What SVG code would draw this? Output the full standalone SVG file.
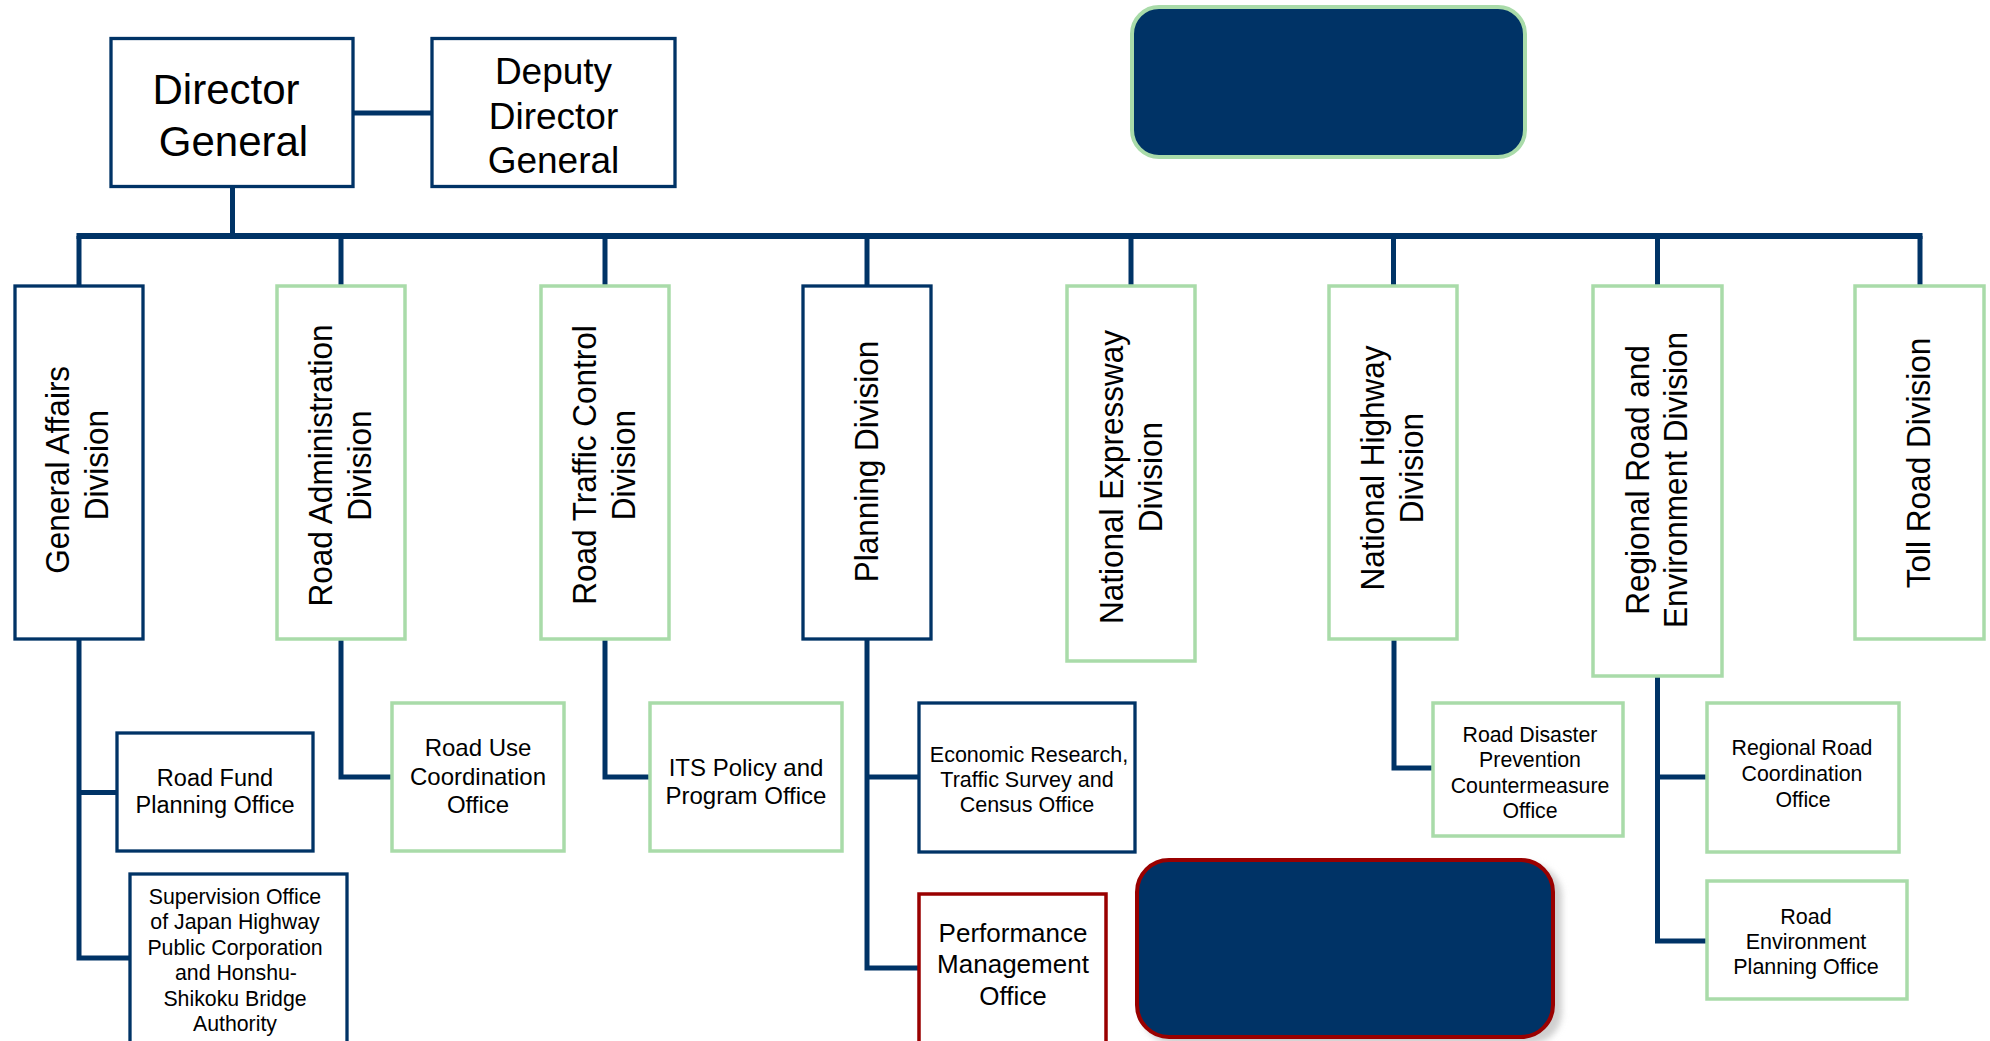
<svg xmlns="http://www.w3.org/2000/svg" width="1990" height="1041" viewBox="0 0 1990 1041">
  <defs>
    <style>
      text { font-family: "Liberation Sans", Arial, sans-serif; fill: #000; text-anchor: middle; }
      .nb { fill: #fff; stroke: #003366; stroke-width: 3.3; }
      .gb { fill: #fff; stroke: #A9DBA9; stroke-width: 3.5; }
      .rb { fill: #fff; stroke: #990000; stroke-width: 3.5; }
      .ln { fill: none; stroke: #003366; stroke-width: 5; stroke-linejoin: miter; stroke-linecap: butt; }
      .bus { fill: none; stroke: #003366; stroke-width: 6; }
      .vt { font-size: 33px; }
    </style>
    <filter id="sh" x="-10%" y="-10%" width="130%" height="130%">
      <feGaussianBlur stdDeviation="3"/>
    </filter>
  </defs>

  <g id="connectors">
    <line class="ln" x1="353" y1="113" x2="432" y2="113"/>
    <line class="ln" x1="232.5" y1="187" x2="232.5" y2="236"/>
    <line class="bus" x1="76.5" y1="236" x2="1922.5" y2="236"/>
    <line class="ln" x1="79" y1="236" x2="79" y2="286"/>
    <line class="ln" x1="341" y1="236" x2="341" y2="286"/>
    <line class="ln" x1="605" y1="236" x2="605" y2="286"/>
    <line class="ln" x1="867" y1="236" x2="867" y2="286"/>
    <line class="ln" x1="1131" y1="236" x2="1131" y2="286"/>
    <line class="ln" x1="1393.5" y1="236" x2="1393.5" y2="286"/>
    <line class="ln" x1="1657.5" y1="236" x2="1657.5" y2="286"/>
    <line class="ln" x1="1920" y1="236" x2="1920" y2="286"/>
    <polyline class="ln" points="79,639 79,958 130,958"/>
    <line class="ln" x1="79" y1="792.5" x2="117" y2="792.5"/>
    <polyline class="ln" points="341,639 341,777 392,777"/>
    <polyline class="ln" points="605,639 605,777 650,777"/>
    <polyline class="ln" points="867,639 867,968 919,968"/>
    <line class="ln" x1="867" y1="777" x2="919" y2="777"/>
    <polyline class="ln" points="1394,638 1394,768 1433,768"/>
    <polyline class="ln" points="1657.5,676 1657.5,941 1707,941"/>
    <line class="ln" x1="1657.5" y1="777" x2="1707" y2="777"/>
  </g>

  <g id="director-general">
    <rect class="nb" x="111" y="38.5" width="242" height="148"/>
    <text x="226" y="104" font-size="42">Director</text>
    <text x="233.5" y="156" font-size="42">General</text>
  </g>

  <g id="deputy-director-general">
    <rect class="nb" x="432" y="38.5" width="243" height="148"/>
    <text x="553.5" y="84" font-size="37">Deputy</text>
    <text x="553.5" y="128.5" font-size="37">Director</text>
    <text x="553.5" y="173" font-size="37">General</text>
  </g>

  <g id="top-panel">
    <rect x="1132" y="7" width="393" height="150" rx="27" ry="27" fill="#003366" stroke="#A9DBA9" stroke-width="4"/>
  </g>

  <g id="general-affairs-division">
    <rect class="nb" x="15" y="286" width="128" height="353"/>
    <g transform="translate(79,465) rotate(-90) scale(0.955,1)">
      <text class="vt" x="-5" y="-10">General Affairs</text>
      <text class="vt" x="0" y="29">Division</text>
    </g>
  </g>

  <g id="road-administration-division">
    <rect class="gb" x="277" y="286" width="128" height="353"/>
    <g transform="translate(341,465.5) rotate(-90) scale(0.955,1)">
      <text class="vt" x="0" y="-9">Road Administration</text>
      <text class="vt" x="0" y="30">Division</text>
    </g>
  </g>

  <g id="road-traffic-control-division">
    <rect class="gb" x="541" y="286" width="128" height="353"/>
    <g transform="translate(605,465) rotate(-90) scale(0.955,1)">
      <text class="vt" x="0" y="-9">Road Traffic Control</text>
      <text class="vt" x="0" y="30">Division</text>
    </g>
  </g>

  <g id="planning-division">
    <rect class="nb" x="803" y="286" width="128" height="353"/>
    <g transform="translate(867,461.5) rotate(-90) scale(0.955,1)">
      <text class="vt" x="0" y="10.5">Planning Division</text>
    </g>
  </g>

  <g id="national-expressway-division">
    <rect class="gb" x="1067" y="286" width="128" height="375"/>
    <g transform="translate(1131,477) rotate(-90) scale(0.955,1)">
      <text class="vt" x="0" y="-8">National Expressway</text>
      <text class="vt" x="0" y="31">Division</text>
    </g>
  </g>

  <g id="national-highway-division">
    <rect class="gb" x="1329" y="286" width="128" height="353"/>
    <g transform="translate(1393,468) rotate(-90) scale(0.955,1)">
      <text class="vt" x="0" y="-9">National Highway</text>
      <text class="vt" x="0" y="30">Division</text>
    </g>
  </g>

  <g id="regional-road-and-environment-division">
    <rect class="gb" x="1593" y="286" width="129" height="390"/>
    <g transform="translate(1657.5,480) rotate(-90) scale(0.955,1)">
      <text class="vt" x="0" y="-9">Regional Road and</text>
      <text class="vt" x="0" y="30">Environment Division</text>
    </g>
  </g>

  <g id="toll-road-division">
    <rect class="gb" x="1855" y="286" width="129" height="353"/>
    <g transform="translate(1919.5,463) rotate(-90) scale(0.955,1)">
      <text class="vt" x="0" y="10.5">Toll Road Division</text>
    </g>
  </g>

  <g id="road-fund-planning-office">
    <rect class="nb" x="117" y="733" width="196" height="118"/>
    <text x="215" y="786" font-size="23.5">Road Fund</text>
    <text x="215" y="813" font-size="23.5">Planning Office</text>
  </g>

  <g id="supervision-office">
    <rect class="nb" x="130" y="874" width="217" height="190"/>
    <text x="235" y="903.5" font-size="21.3">Supervision Office</text>
    <text x="235" y="929" font-size="21.3">of Japan Highway</text>
    <text x="235" y="954.5" font-size="21.3">Public Corporation</text>
    <text x="236" y="980" font-size="21.3">and Honshu-</text>
    <text x="235" y="1005.5" font-size="21.3">Shikoku Bridge</text>
    <text x="235" y="1031" font-size="21.3">Authority</text>
  </g>

  <g id="road-use-coordination-office">
    <rect class="gb" x="392" y="703" width="172" height="148"/>
    <text x="478" y="756" font-size="24">Road Use</text>
    <text x="478" y="784.5" font-size="24">Coordination</text>
    <text x="478" y="813" font-size="24">Office</text>
  </g>

  <g id="its-policy-and-program-office">
    <rect class="gb" x="650" y="703" width="192" height="148"/>
    <text x="746" y="776" font-size="24">ITS Policy and</text>
    <text x="746" y="804" font-size="24">Program Office</text>
  </g>

  <g id="economic-research-office">
    <rect class="nb" x="919" y="703" width="216" height="149"/>
    <text x="1029" y="762" font-size="21.5">Economic Research,</text>
    <text x="1027" y="787" font-size="21.5">Traffic Survey and</text>
    <text x="1027" y="812" font-size="21.5">Census Office</text>
  </g>

  <g id="performance-management-office">
    <rect class="rb" x="919" y="894" width="187" height="170"/>
    <text x="1013" y="941.5" font-size="26">Performance</text>
    <text x="1013" y="973" font-size="26">Management</text>
    <text x="1013" y="1005" font-size="26">Office</text>
  </g>

  <g id="bottom-panel">
    <rect x="1142" y="864" width="420" height="180" rx="32" ry="32" fill="#cfcfcf" filter="url(#sh)"/>
    <rect x="1137" y="860" width="416" height="177" rx="32" ry="32" fill="#003366" stroke="#990000" stroke-width="4"/>
  </g>

  <g id="road-disaster-prevention-office">
    <rect class="gb" x="1433" y="703" width="190" height="133"/>
    <text x="1530" y="742" font-size="21.3">Road Disaster</text>
    <text x="1530" y="767" font-size="21.3">Prevention</text>
    <text x="1530" y="792.5" font-size="21.3">Countermeasure</text>
    <text x="1530" y="817.5" font-size="21.3">Office</text>
  </g>

  <g id="regional-road-coordination-office">
    <rect class="gb" x="1707" y="703" width="192" height="149"/>
    <text x="1802" y="755" font-size="21.3">Regional Road</text>
    <text x="1802" y="781" font-size="21.3">Coordination</text>
    <text x="1803" y="806.5" font-size="21.3">Office</text>
  </g>

  <g id="road-environment-planning-office">
    <rect class="gb" x="1707" y="881" width="200" height="118"/>
    <text x="1806" y="923.5" font-size="21.5">Road</text>
    <text x="1806" y="948.5" font-size="21.5">Environment</text>
    <text x="1806" y="973.5" font-size="21.5">Planning Office</text>
  </g>
</svg>
